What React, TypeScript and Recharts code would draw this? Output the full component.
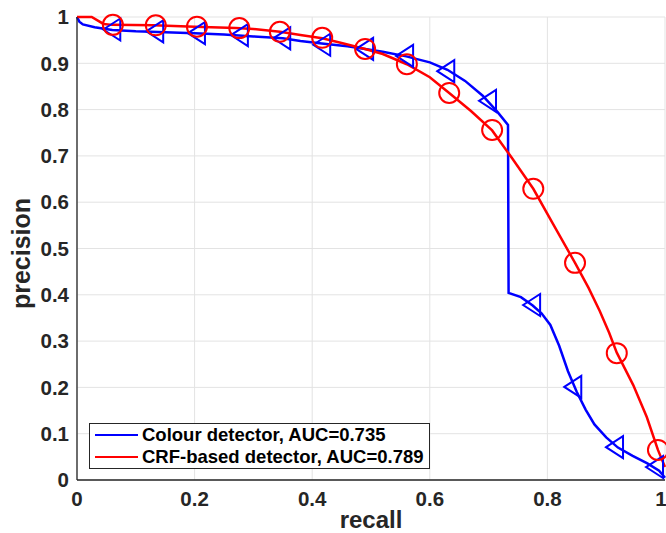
import React from 'react';
import {
  ComposedChart,
  Line,
  XAxis,
  YAxis,
  CartesianGrid,
} from 'recharts';

// precision-recall curves
const blueX = [0, 0.004, 0.01, 0.03, 0.06, 0.1, 0.15, 0.2, 0.25, 0.3, 0.35, 0.38, 0.42, 0.46, 0.49, 0.52, 0.56, 0.6, 0.63, 0.66, 0.69, 0.715, 0.733, 0.734, 0.755, 0.775, 0.79, 0.805, 0.82, 0.835, 0.85, 0.865, 0.88, 0.9, 0.92, 0.945, 0.97, 0.99, 1.0];
const blueY = [1.0, 0.99, 0.984, 0.978, 0.972, 0.969, 0.967, 0.965, 0.962, 0.958, 0.954, 0.948, 0.942, 0.937, 0.931, 0.925, 0.915, 0.902, 0.886, 0.862, 0.83, 0.795, 0.767, 0.404, 0.395, 0.377, 0.36, 0.335, 0.29, 0.235, 0.19, 0.152, 0.12, 0.092, 0.07, 0.052, 0.036, 0.02, 0.005];

const redX = [0, 0.025, 0.045, 0.06, 0.13, 0.2, 0.27, 0.3, 0.345, 0.38, 0.417, 0.45, 0.49, 0.52, 0.561, 0.6, 0.633, 0.67, 0.706, 0.74, 0.776, 0.81, 0.847, 0.87, 0.889, 0.905, 0.918, 0.946, 0.969, 0.988, 1.0];
const redY = [1.0, 1.0, 0.985, 0.983, 0.982, 0.979, 0.976, 0.974, 0.968, 0.961, 0.954, 0.944, 0.931, 0.92, 0.898, 0.87, 0.836, 0.797, 0.755, 0.695, 0.629, 0.552, 0.469, 0.415, 0.365, 0.318, 0.275, 0.205, 0.136, 0.065, 0.028];

// marker positions
const blueMarkX = [0.06, 0.133, 0.204, 0.277, 0.349, 0.417, 0.49, 0.558, 0.628, 0.699, 0.774, 0.844, 0.915, 0.983];
const blueMarkY = [0.973, 0.969, 0.965, 0.961, 0.954, 0.94, 0.931, 0.916, 0.883, 0.819, 0.378, 0.201, 0.071, 0.028];
const redMarkX = [0.061, 0.134, 0.204, 0.276, 0.345, 0.417, 0.49, 0.561, 0.633, 0.706, 0.776, 0.847, 0.918, 0.988];
const redMarkY = [0.983, 0.982, 0.979, 0.976, 0.968, 0.955, 0.931, 0.898, 0.836, 0.756, 0.629, 0.469, 0.274, 0.065];

const xTicks = [0, 0.2, 0.4, 0.6, 0.8, 1];
const yTicks = [0, 0.1, 0.2, 0.3, 0.4, 0.5, 0.6, 0.7, 0.8, 0.9, 1];

const seriesNames = ['Colour detector, AUC=0.735', 'CRF-based detector, AUC=0.789'];
const seriesColors = ['#0000ff', '#ff0000'];

const zip = (xs: number[], ys: number[]) => xs.map((x, i) => ({ x, y: ys[i] }));

const blueLine = zip(blueX, blueY);
const redLine = zip(redX, redY);
const blueMarks = zip(blueMarkX, blueMarkY);
const redMarks = zip(redMarkX, redMarkY);

const AXIS = '#262626';
const FONT = '"Liberation Sans", Arial, sans-serif';
const tickStyle = { fontSize: 20.5, fontWeight: 700, fill: AXIS, fontFamily: FONT };

const Triangle = (props: any) => {
  const { cx, cy } = props;
  if (cx == null || cy == null) return <g key={props.key} />;
  const pts = `${cx - 9},${cy} ${cx + 8},${cy - 11} ${cx + 8},${cy + 11}`;
  return (
    <polygon key={props.key} points={pts} fill="none" stroke={seriesColors[0]} strokeWidth={2} />
  );
};

const Circle = (props: any) => {
  const { cx, cy } = props;
  if (cx == null || cy == null) return <g key={props.key} />;
  return <circle key={props.key} cx={cx} cy={cy} r={10} fill="none" stroke={seriesColors[1]} strokeWidth={2} />;
};

// legend drawn as an overlay, so it takes no room from the plot
const LegendBox = () => (
  <div
    style={{
      position: 'absolute',
      left: 89,
      top: 423,
      border: `1px solid ${AXIS}`,
      background: '#fff',
      width: 341,
      height: 46,
      boxSizing: 'border-box',
      padding: '0 0 0 5px',
      fontFamily: FONT,
      fontWeight: 700,
      fontSize: 18.5,
      color: '#000',
    }}
  >
    {seriesNames.map((name, i) => (
      <div key={name} style={{ display: 'flex', alignItems: 'center', height: 22, whiteSpace: 'nowrap' }}>
        <span style={{ display: 'inline-block', width: 43, height: 2, background: seriesColors[i], marginRight: 4 }} />
        <span>{name}</span>
      </div>
    ))}
  </div>
);

const titleStyle = { fontSize: 24, fontWeight: 700, fill: AXIS, fontFamily: FONT };

export default function App() {
  return (
    <div style={{ position: 'absolute', left: 0, top: 0, width: 666, height: 533, background: '#fff' }}>
      <ComposedChart width={666} height={533} margin={{ top: 17, right: 1, bottom: 0, left: 0 }}>
        <CartesianGrid xAxisId="b" yAxisId="l" stroke="#e3e3e3" strokeWidth={1} />
        <XAxis
          xAxisId="b"
          dataKey="x"
          type="number"
          domain={[0, 1]}
          ticks={xTicks}
          tickLine={false}
          tickMargin={5}
          axisLine={{ stroke: AXIS, strokeWidth: 1.3 }}
          tick={tickStyle}
          height={53}
          allowDuplicatedCategory={false}
          label={{ value: 'recall', position: 'center', dy: 13, style: titleStyle }}
        />
        <XAxis xAxisId="bm" type="number" domain={[0, 1]} ticks={xTicks} mirror height={0} tick={false} tickSize={6} tickLine={{ stroke: AXIS }} axisLine={false} />
        <XAxis xAxisId="t" orientation="top" type="number" domain={[0, 1]} ticks={xTicks} mirror height={0} tick={false} tickSize={6} tickLine={{ stroke: AXIS }} axisLine={{ stroke: AXIS, strokeWidth: 1.3 }} />
        <YAxis
          yAxisId="l"
          dataKey="y"
          type="number"
          domain={[0, 1]}
          ticks={yTicks}
          tickLine={false}
          tickMargin={2}
          axisLine={{ stroke: AXIS, strokeWidth: 1.3 }}
          tick={tickStyle}
          width={77}
          label={{ value: 'precision', angle: -90, position: 'center', dx: -17, dy: 5, style: { ...titleStyle, fontSize: 25 } }}
        />
        <YAxis yAxisId="lm" type="number" domain={[0, 1]} ticks={yTicks} mirror width={0} tick={false} tickSize={6} tickLine={{ stroke: AXIS }} axisLine={false} />
        <YAxis yAxisId="r" orientation="right" type="number" domain={[0, 1]} ticks={yTicks} mirror width={0} tick={false} tickSize={6} tickLine={{ stroke: AXIS }} axisLine={{ stroke: AXIS, strokeWidth: 1.3 }} />

        <Line xAxisId="b" yAxisId="l" data={blueLine} dataKey="y" type="linear" stroke={seriesColors[0]} strokeWidth={2.5} dot={false} isAnimationActive={false} />
        <Line xAxisId="b" yAxisId="l" data={blueMarks} dataKey="y" stroke="none" dot={Triangle} activeDot={false} isAnimationActive={false} />
        <Line xAxisId="b" yAxisId="l" data={redLine} dataKey="y" type="linear" stroke={seriesColors[1]} strokeWidth={2.5} dot={false} isAnimationActive={false} />
        <Line xAxisId="b" yAxisId="l" data={redMarks} dataKey="y" stroke="none" dot={Circle} activeDot={false} isAnimationActive={false} />
      </ComposedChart>
      <LegendBox />
    </div>
  );
}
